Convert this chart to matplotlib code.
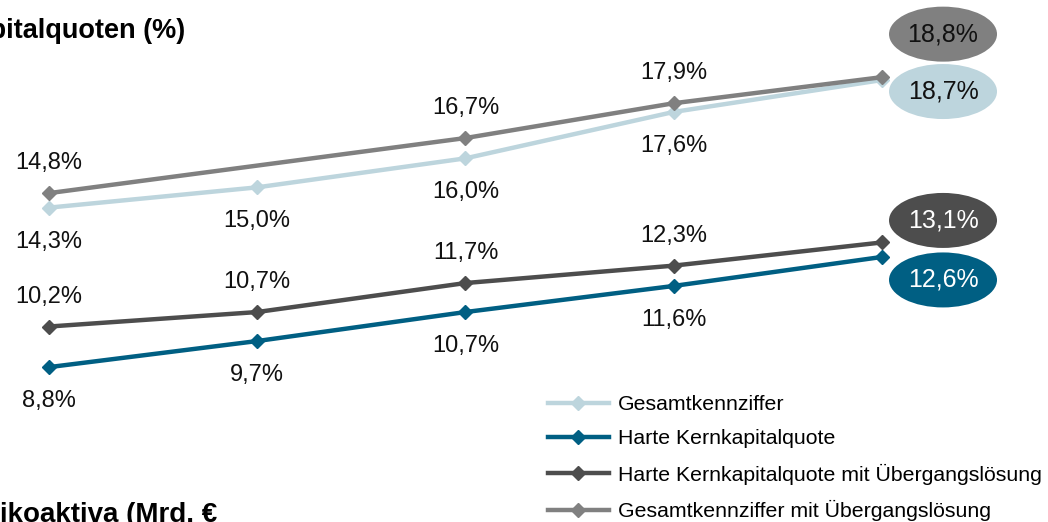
import matplotlib

matplotlib.use("Agg")
import matplotlib.pyplot as plt
from matplotlib.patches import Ellipse
from matplotlib.transforms import ScaledTranslation

plt.rcParams["font.family"] = ["Liberation Sans", "DejaVu Sans"]

periods = [0, 1, 2, 3, 4]
gesamt = [14.3, 15.0, 16.0, 17.6, 18.7]
harte = [8.8, 9.7, 10.7, 11.6, 12.6]
harte_ueb = [10.2, 10.7, 11.7, 12.3, 13.1]
gesamt_ueb = [14.8, None, 16.7, 17.9, 18.8]  # no value shown for the 2nd period

c_gesamt = "#bdd5dd"
c_harte = "#005f83"
c_harte_ueb = "#4d4d4d"
c_gesamt_ueb = "#808080"

fig = plt.figure(figsize=(10.48, 5.22), dpi=100)
ax = fig.add_axes([0, 0, 1, 1])
ax.set_xlim(-0.235, 4.797)
ax.set_ylim(3.46, 21.46)
ax.axis("off")

# (values, colour, legend name, label offset in px: <0 below, >0 above)
series = [
    (gesamt, c_gesamt, "Gesamtkennziffer", -34),
    (harte, c_harte, "Harte Kernkapitalquote", -34),
    (harte_ueb, c_harte_ueb, "Harte Kernkapitalquote mit Übergangslösung", 30),
    (gesamt_ueb, c_gesamt_ueb, "Gesamtkennziffer mit Übergangslösung", 30),
]


def fmt(v):
    return f"{v:.1f}%".replace(".", ",")


handles = []
for vals, col, name, off in series:
    xs = [x for x, v in zip(periods, vals) if v is not None]
    ys = [v for v in vals if v is not None]
    (ln,) = ax.plot(xs, ys, color=col, lw=3.2, marker="D", ms=7, label=name)
    handles.append(ln)
    for x, v in zip(xs[:-1], ys[:-1]):
        ax.annotate(fmt(v), (x, v), xytext=(0, off), textcoords="offset pixels",
                    ha="center", va="center", fontsize=17, color="#111111")

# end values in ellipses (offsets in inches from the last point, dy > 0 = below)
ends = [
    (gesamt_ueb, c_gesamt_ueb, -0.43, "#111111"),
    (gesamt, c_gesamt, 0.115, "#111111"),
    (harte_ueb, c_harte_ueb, -0.22, "white"),
    (harte, c_harte, 0.23, "white"),
]
for vals, col, dy, tcol in ends:
    tr = fig.dpi_scale_trans + ScaledTranslation(periods[-1], vals[-1], ax.transData)
    ax.add_patch(Ellipse((0.61, -dy), 1.08, 0.55, transform=tr, facecolor=col,
                         edgecolor="none", clip_on=False))
    ax.text(0.61, -dy, fmt(vals[-1]), transform=tr, ha="center", va="center",
            fontsize=18, color=tcol)

ax.legend(handles=handles, loc="upper left",
          bbox_to_anchor=(548 / 1048, 1 - 395 / 522), frameon=False,
          fontsize=15.3, handlelength=2.85, handletextpad=0.45, labelspacing=0.72,
          borderpad=0, borderaxespad=0)

fig.text(185 / 1048, 1 - 31 / 522, "Kapitalquoten (%)", ha="right", va="center",
         fontsize=19.5, fontweight="bold")
fig.text(217 / 1048, 1 - 522 / 522, "Risikoaktiva (Mrd. €", ha="right", va="baseline",
         fontsize=20, fontweight="bold")

fig.savefig("out.png", dpi=100)
